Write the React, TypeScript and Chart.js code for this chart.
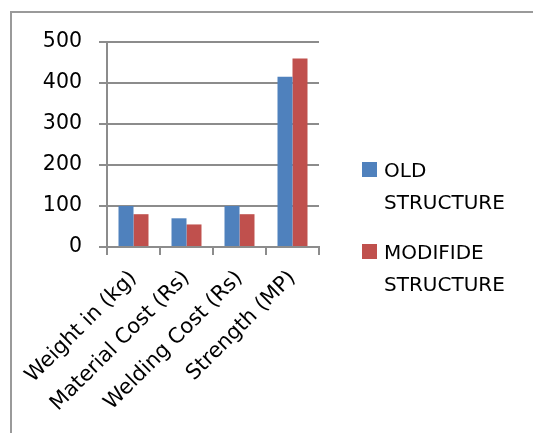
import React, { useEffect, useRef } from "react";
import { Chart, registerables } from "chart.js";

Chart.register(...registerables);

const categories = ["Weight in (kg)", "Material Cost (Rs)", "Welding Cost (Rs)", "Strength (MP)"];
const oldStructure = [100, 70, 100, 415];
const modifiedStructure = [80, 55, 80, 460];
const seriesNames = ["OLD STRUCTURE", "MODIFIDE STRUCTURE"];
const seriesColors = ["#4F81BD", "#C0504D"];
const yTicks = { min: 0, max: 500, step: 100 };

const FONT = "'DejaVu Sans'";
const GRID = "#8c8c8c";

const framePlugin = {
  id: "frame",
  beforeDraw(chart: any) {
    const ctx = chart.ctx;
    ctx.save();
    ctx.fillStyle = "#ffffff";
    ctx.fillRect(0, 0, chart.width, chart.height);
    ctx.fillStyle = "#9a9a9a";
    ctx.fillRect(10, 11, 2, chart.height - 11);
    ctx.fillRect(10, 11, chart.width - 10, 2);
    ctx.restore();
  },
};

const legendPlugin = {
  id: "wrapLegend",
  afterDraw(chart: any) {
    const ctx = chart.ctx;
    ctx.save();
    ctx.font = `20px ${FONT}`;
    ctx.textBaseline = "alphabetic";
    ctx.textAlign = "left";
    const boxX = 362;
    const textX = 384;
    const starts = [162, 244];
    chart.data.datasets.forEach((ds: any, i: number) => {
      const top = starts[i];
      ctx.fillStyle = ds.backgroundColor;
      ctx.fillRect(boxX, top, 15, 15);
      ctx.fillStyle = "#000000";
      const lines = String(ds.label).split(" ");
      lines.forEach((line: string, j: number) => {
        ctx.fillText(line, textX, top + 15 + j * 32);
      });
    });
    ctx.restore();
  },
};

export default function App() {
  const ref = useRef<HTMLCanvasElement | null>(null);

  useEffect(() => {
    if (!ref.current) return;
    const chart = new Chart(ref.current, {
      type: "bar",
      data: {
        labels: categories,
        datasets: [
          {
            label: seriesNames[0],
            data: oldStructure,
            backgroundColor: seriesColors[0],
            categoryPercentage: 30 / 53,
            barPercentage: 1,
          },
          {
            label: seriesNames[1],
            data: modifiedStructure,
            backgroundColor: seriesColors[1],
            categoryPercentage: 30 / 53,
            barPercentage: 1,
          },
        ],
      },
      options: {
        animation: false,
        responsive: false,
        devicePixelRatio: 1,
        layout: { padding: { top: 42, right: 214, left: 0, bottom: 0 } },
        plugins: {
          legend: { display: false },
          tooltip: { enabled: false },
          title: { display: false },
        },
        scales: {
          x: {
            grid: {
              offset: true,
              drawOnChartArea: false,
              drawTicks: true,
              tickLength: 8,
              color: GRID,
              lineWidth: 2,
            },
            border: { display: true, color: GRID, width: 2 },
            ticks: {
              minRotation: 45,
              maxRotation: 45,
              autoSkip: false,
              padding: 11,
              color: "#000000",
              font: { family: FONT, size: 21 },
            },
            afterFit(scale: any) {
              scale.height = 186;
            },
          },
          y: {
            min: yTicks.min,
            max: yTicks.max,
            grid: {
              color: GRID,
              lineWidth: 2,
              tickLength: 8,
              drawTicks: true,
            },
            border: { display: true, color: GRID, width: 2 },
            ticks: {
              stepSize: yTicks.step,
              padding: 17,
              color: "#000000",
              font: { family: FONT, size: 20.5 },
            },
            afterFit(scale: any) {
              scale.width = 107;
            },
          },
        },
      },
      plugins: [framePlugin, legendPlugin],
    });
    return () => chart.destroy();
  }, []);

  return (
    <div style={{ position: "fixed", left: 0, top: 0, width: 533, height: 433, overflow: "hidden", background: "#fff" }}>
      <canvas ref={ref} width={533} height={433} style={{ display: "block", width: 533, height: 433 }} />
    </div>
  );
}
